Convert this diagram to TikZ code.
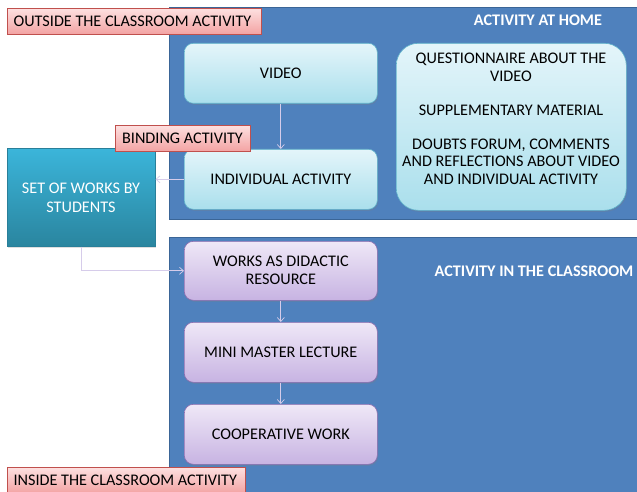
\documentclass[tikz,border=0pt]{standalone}
\usepackage{fontspec}
\setmainfont{Carlito}
\usetikzlibrary{arrows.meta,shadows}
\definecolor{panel}{HTML}{4F81BD}
\definecolor{panelb}{HTML}{3A6597}
\definecolor{cyt}{HTML}{E4F5FA}
\definecolor{cyb}{HTML}{AADFEC}
\definecolor{cyd}{HTML}{5FB3CB}
\definecolor{put}{HTML}{EFE8F7}
\definecolor{pub}{HTML}{C7B3E2}
\definecolor{pud}{HTML}{8A6BAE}
\definecolor{ret}{HTML}{FDE0E0}
\definecolor{reb}{HTML}{F3A3A3}
\definecolor{red}{HTML}{C0504D}
\definecolor{sett}{HTML}{3BB5DA}
\definecolor{setb}{HTML}{2A859F}
\definecolor{conn}{HTML}{D6CCEA}
\tikzset{
  x=1pt,y=-1pt,
  every node/.style={font=\fontsize{16.2}{18}\selectfont},
  panelbox/.style={fill=panel,draw=panelb,line width=0.8pt},
  cybox/.style={rounded corners=9pt,draw=cyd,line width=0.6pt,top color=cyt,bottom color=cyb,drop shadow={opacity=0.25,shadow xshift=1pt,shadow yshift=-1.5pt}},
  pubox/.style={rounded corners=9pt,draw=pud,line width=0.6pt,top color=put,bottom color=pub,drop shadow={opacity=0.25,shadow xshift=1pt,shadow yshift=-1.5pt}},
  relabel/.style={draw=red,line width=0.6pt,top color=ret,bottom color=reb,inner sep=0pt,anchor=north west,drop shadow={opacity=0.2,shadow xshift=1pt,shadow yshift=-1pt}},
  conn/.style={draw=conn,line width=0.7pt,-{Straight Barb[length=4pt,width=7pt]}},
  lbl/.style={text=white,font=\fontsize{16.2}{18}\selectfont\bfseries},
}
\begin{document}
\begin{tikzpicture}
\useasboundingbox (0,0) rectangle (637,492);
% panels
\path[panelbox] (169,7) rectangle (637,219);
\path[panelbox] (169,237) rectangle (637,493);
\node[lbl] (home) at (538,20) {ACTIVITY AT HOME};
\node[lbl] (cls) at (534,271) {ACTIVITY IN THE CLASSROOM};
% cyan boxes
\node[cybox,minimum width=193pt,minimum height=60pt,anchor=north west] (video) at (184,43) {VIDEO};
\node[cybox,minimum width=193pt,minimum height=60pt,anchor=north west] (indiv) at (184,149) {INDIVIDUAL ACTIVITY};
\node[cybox,rounded corners=22pt,minimum width=230pt,minimum height=167pt,anchor=north west] (quest) at (396,43) {};
\node[align=center,anchor=north,font=\fontsize{16.2}{17.6}\selectfont] (questtxt) at (511,49.5) {QUESTIONNAIRE ABOUT THE\\VIDEO\\[16.5pt]SUPPLEMENTARY MATERIAL\\[16.5pt]DOUBTS FORUM, COMMENTS\\AND REFLECTIONS ABOUT VIDEO\\AND INDIVIDUAL ACTIVITY};
% set of works
\node[top color=sett,bottom color=setb,draw=sett!70!black,line width=0.5pt,minimum width=148pt,minimum height=98pt,anchor=north west,drop shadow={opacity=0.25,shadow xshift=1pt,shadow yshift=-1.5pt}] (set) at (7,148) {};
\node[text=white,align=center,font=\fontsize{16.2}{19}\selectfont] (settxt) at (81,198) {SET OF WORKS BY\\STUDENTS};
% purple boxes
\node[pubox,minimum width=193pt,minimum height=59pt,anchor=north west,align=center] (works) at (184,241) {WORKS AS DIDACTIC\\RESOURCE};
\node[pubox,minimum width=193pt,minimum height=60pt,anchor=north west] (mini) at (184,322) {MINI MASTER LECTURE};
\node[pubox,minimum width=193pt,minimum height=60pt,anchor=north west] (coop) at (184,404) {COOPERATIVE WORK};
% labels
\node[relabel,minimum width=254pt,minimum height=26pt] (outside) at (7,8) {};
\node[anchor=west] (outsidetxt) at (10,21) {OUTSIDE THE CLASSROOM ACTIVITY};
\node[relabel,minimum width=135pt,minimum height=26pt] (binding) at (115,125) {};
\node[anchor=center] (bindingtxt) at (182.5,138) {BINDING ACTIVITY};
\node[relabel,minimum width=238pt,minimum height=26pt] (inside) at (7,467) {};
\node[anchor=west] (insidetxt) at (10,480) {INSIDE THE CLASSROOM ACTIVITY};
% connectors
\draw[conn] (video.south) -- (indiv.north);
\draw[conn] (indiv.west) -- (indiv.west -| set.east);
\draw[conn] (set.south) |- (works.west);
\draw[conn] (works.south) -- (mini.north);
\draw[conn] (mini.south) -- (coop.north);
\end{tikzpicture}
\end{document}
